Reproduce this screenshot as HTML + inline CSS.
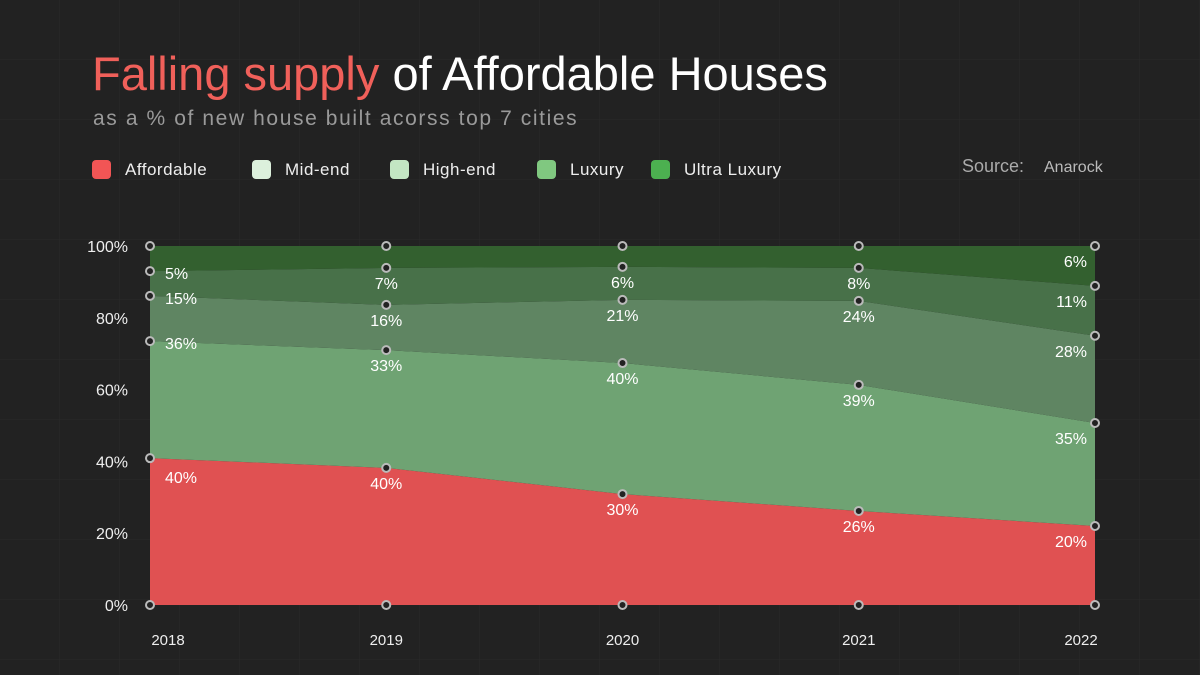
<!DOCTYPE html>
<html><head><meta charset="utf-8"><style>
body{margin:0;width:1200px;height:675px;background:#222;overflow:hidden;font-family:"Liberation Sans",sans-serif}
svg{position:absolute;left:0;top:0}
</style></head><body>
<svg id="c" width="1200" height="675">
<defs><pattern id="g" width="60" height="60" patternUnits="userSpaceOnUse"><path d="M60 0V60H0" fill="none" stroke="#2a2a2a" stroke-width="1"/></pattern></defs>
<rect width="1200" height="675" fill="url(#g)"/>
<text x="92" y="90" font-size="47" fill="#f0605a">Falling supply <tspan fill="#fff">of Affordable Houses</tspan></text>
<text x="93" y="125" font-size="21" letter-spacing="1.6" fill="#9a9a9a">as a % of new house built acorss top 7 cities</text>
<text x="962" y="172" font-size="18" fill="#aaa">Source:</text>
<text x="1044" y="172" font-size="16" fill="#bbb">Anarock</text>
<g id="legend"></g><g id="plot"></g>
</svg>
<script>
const years=["2018","2019","2020","2021","2022"];
// visible band heights (% of chart height)
const affordable=[40.9,38.2,30.9,26.2,22.0];
const midEnd=[32.6,32.8,36.5,35.1,28.7];
const highEnd=[12.6,12.6,17.6,23.4,24.3];
const luxury=[6.9,10.3,9.2,9.2,13.9];
const ultra=[7.0,6.1,5.8,6.1,11.1];
// printed value labels
const affordableLabels=[40,40,30,26,20];
const midEndLabels=[36,33,40,39,35];
const highEndLabels=[15,16,21,24,28];
const luxuryLabels=[5,7,6,8,11];
const ultraLabels=[null,null,null,null,6];
const yTicks=[0,20,40,60,80,100];
const seriesNames=["Affordable","Mid-end","High-end","Luxury","Ultra Luxury"];
const ns="http://www.w3.org/2000/svg";
const plot=document.getElementById('plot'),leg=document.getElementById('legend');
const X0=150,X1=1095,Y0=605,Y1=246;
const x=i=>X0+(X1-X0)*i/(years.length-1);
const y=v=>Y0-(Y0-Y1)*v/100;
function mk(t,a,p){const e=document.createElementNS(ns,t);for(const k in a)e.setAttribute(k,a[k]);(p||plot).appendChild(e);return e;}
const series=[affordable,midEnd,highEnd,luxury,ultra];
const labels=[affordableLabels,midEndLabels,highEndLabels,luxuryLabels,ultraLabels];
const fills=["#e05152","#6fa373","#5f8562","#487149","#33602f"];
const legCols=["#f25555","#dcf0dc","#c3e6c3","#80c880","#4cb050"];
const legX=[92,252,390,537,651];
seriesNames.forEach((n,i)=>{
 const r=mk('rect',{x:legX[i],y:160,width:19,height:19,rx:4,fill:legCols[i]},leg);
 
 
 const t=mk('text',{x:legX[i]+33,y:175,'font-size':17,fill:'#eee','letter-spacing':'0.5'},leg);t.textContent=n;
 
 
});
const cum=[];let base=years.map(()=>0);
series.forEach((s,k)=>{const top=base.map((b,i)=>Math.min(100,b+s[i]));cum.push({lo:base,hi:top});base=top;});
cum.forEach((c,k)=>{
 let d=c.hi.map((v,i)=>(i?'L':'M')+x(i)+' '+y(v)).join(' ');
 for(let i=years.length-1;i>=0;i--)d+=' L'+x(i)+' '+y(c.lo[i]);
 const p=mk('path',{d:d+'Z',fill:fills[k]});
 
 
});
yTicks.forEach(v=>{const t=mk('text',{x:128,y:y(v)+6,'font-size':16,fill:'#eee','text-anchor':'end'});t.textContent=v+'%';
 
 });
years.forEach((yr,i)=>{const t=mk('text',{x:x(i)+(i==0?18:i==4?-14:0),y:645,'font-size':15,fill:'#eee','text-anchor':'middle'});t.textContent=yr;
 
 });
years.forEach((yr,i)=>{
 [0,...cum.map(c=>c.hi[i])].forEach(v=>{const m=mk('circle',{cx:x(i),cy:y(v),r:4,fill:'#222',stroke:'#bbb','stroke-width':2});
 
 });
 for(let k=0;k<5;k++){
  const lv=labels[k][i];if(lv==null)continue;
  const top=k<4?cum[k].hi[i]:cum[3].hi[i];
  const my=k<4?y(cum[k].hi[i]):y(100);
  let tx,ty,anc;
  if(i==0){tx=x(i)+15;ty=my+(k==0?25:8);anc='start';}
  else if(i==4){tx=x(i)-8;ty=my+21;anc='end';}
  else{tx=x(i);ty=my+21;anc='middle';}
  const t=mk('text',{x:tx,y:ty,'font-size':16,fill:'#fff','text-anchor':anc});t.textContent=lv+'%';
  
  
 }
});
</script>
</body></html>
